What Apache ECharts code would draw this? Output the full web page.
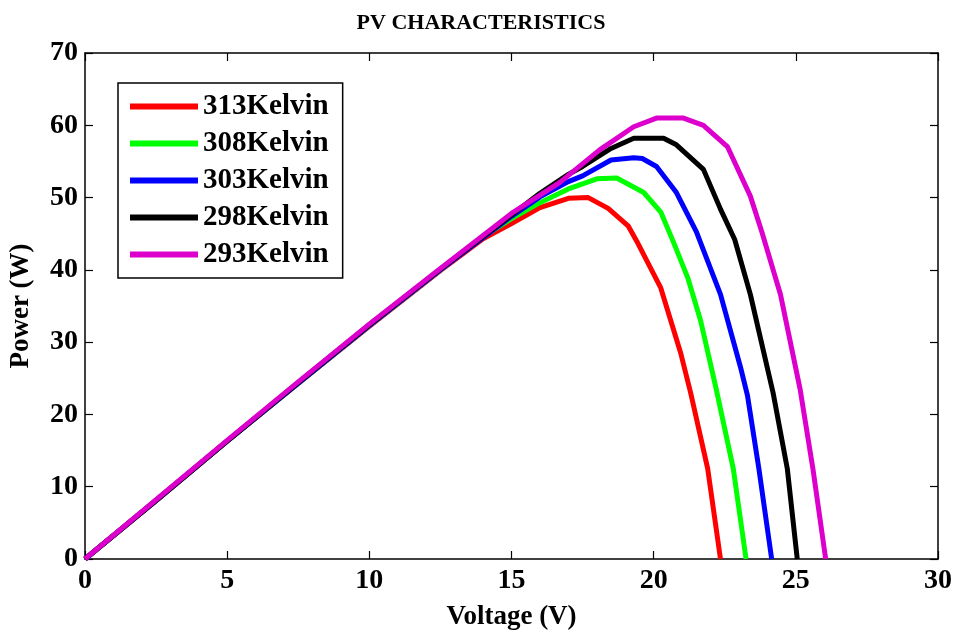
<!DOCTYPE html>
<html>
<head>
<meta charset="utf-8">
<script src="https://cdn.jsdelivr.net/npm/echarts@6/dist/echarts.min.js"></script>
<style>html,body{margin:0;padding:0;background:#fff}#chart{width:962px;height:636px}</style>
</head>
<body>
<div id="chart"></div>
<script>
var seriesNames = ['313Kelvin', '308Kelvin', '303Kelvin', '298Kelvin', '293Kelvin'];
var seriesColors = ['#ff0000', '#00ff00', '#0000ff', '#000000', '#dd00cc'];

var volts313 = [0, 2.5, 5, 7.5, 10, 12.5, 14, 15, 16, 17, 17.7, 18.4, 19.1, 19.4, 20.25, 20.95, 21.3, 21.9, 22.35];
var power313 = [0, 8.1, 16.3, 24.3, 32.2, 39.9, 44.3, 46.4, 48.6, 49.9, 50.0, 48.5, 46.1, 44.0, 37.5, 28.5, 23.0, 12.5, 0];

var volts308 = [0, 2.5, 5, 7.5, 10, 12.5, 14, 15, 16, 17, 18, 18.7, 19.65, 20.25, 20.7, 21.2, 21.65, 22.2, 22.8, 23.25];
var power308 = [0, 8.1, 16.3, 24.3, 32.3, 40.0, 44.6, 47.1, 49.3, 51.2, 52.6, 52.7, 50.7, 48.0, 43.8, 38.9, 33.0, 23.5, 12.5, 0];

var volts303 = [0, 2.5, 5, 7.5, 10, 12.5, 15, 16, 17, 17.5, 18.5, 19.3, 19.6, 20.1, 20.8, 21.5, 22.35, 23.05, 23.3, 23.7, 24.15];
var power303 = [0, 8.1, 16.3, 24.3, 32.3, 40.0, 47.4, 50.1, 52.2, 53.0, 55.2, 55.5, 55.4, 54.3, 50.7, 45.3, 36.6, 26.6, 22.6, 12.5, 0];

var volts298 = [0, 2.5, 5, 7.5, 10, 12.5, 15, 16, 17, 17.5, 18.5, 19.3, 20.35, 20.8, 21.75, 22.35, 22.85, 23.4, 24.2, 24.7, 25.05];
var power298 = [0, 8.1, 16.3, 24.4, 32.4, 40.1, 47.6, 50.6, 53.2, 54.3, 56.8, 58.2, 58.2, 57.3, 53.9, 48.4, 44.2, 36.6, 23.0, 12.5, 0];

var volts293 = [0, 2.5, 5, 7.5, 10, 12.5, 15, 16.7, 18.1, 19.3, 20.1, 21.05, 21.75, 22.6, 23.4, 23.8, 24.46, 25.15, 25.6, 26.05];
var power293 = [0, 8.2, 16.4, 24.5, 32.5, 40.2, 47.8, 52.1, 56.6, 59.8, 61.0, 61.0, 60.0, 57.0, 50.2, 45.3, 36.6, 23.5, 12.5, 0];

var xTicks = [0, 5, 10, 15, 20, 25, 30];
var yTicks = [0, 10, 20, 30, 40, 50, 60, 70];

var allVolts = [volts313, volts308, volts303, volts298, volts293];
var allPower = [power313, power308, power303, power298, power293];

var FONT = 'Liberation Serif';

function pairs(v, p) {
  var out = [];
  for (var i = 0; i < v.length; i++) out.push([v[i], p[i]]);
  return out;
}

var series = seriesNames.map(function (name, i) {
  return {
    name: name,
    type: 'line',
    xAxisIndex: 0,
    yAxisIndex: 0,
    data: pairs(allVolts[i], allPower[i]),
    showSymbol: false,
    symbol: 'none',
    smooth: false,
    lineStyle: { color: seriesColors[i], width: 5, join: 'round' },
    itemStyle: { color: seriesColors[i] },
    emphasis: { disabled: true },
    animation: false,
    z: 2 + i
  };
});

var xMin = xTicks[0], xMax = xTicks[xTicks.length - 1];
var yMin = yTicks[0], yMax = yTicks[yTicks.length - 1];
var xStep = xTicks[1] - xTicks[0], yStep = yTicks[1] - yTicks[0];

var axisText = { color: '#000', fontFamily: FONT, fontWeight: 'bold', fontSize: 28 };

var option = {
  backgroundColor: '#fff',
  animation: false,
  title: {
    text: 'PV CHARACTERISTICS',
    left: 'center',
    top: 7,
    textStyle: { color: '#000', fontFamily: FONT, fontWeight: 'bold', fontSize: 22 }
  },
  grid: { left: 84, right: 24, top: 53, bottom: 70, containLabel: false },
  legend: {
    orient: 'vertical',
    left: 118,
    top: 83,
    data: seriesNames,
    icon: 'rect',
    itemWidth: 68,
    itemHeight: 6,
    itemGap: 8,
    padding: [9, 14, 9, 12],
    borderColor: '#000',
    borderWidth: 1.5,
    backgroundColor: '#fff',
    textStyle: { color: '#000', fontFamily: FONT, fontWeight: 'bold', fontSize: 29, lineHeight: 28 }
  },
  xAxis: [
    {
      type: 'value', min: xMin, max: xMax, interval: xStep,
      name: 'Voltage (V)', nameLocation: 'middle', nameGap: 45,
      nameTextStyle: { color: '#000', fontFamily: FONT, fontWeight: 'bold', fontSize: 27 },
      axisLine: { show: true, onZero: false, lineStyle: { color: '#000', width: 1.5 } },
      axisTick: { show: true, inside: true, length: 8, lineStyle: { color: '#000', width: 1.2 } },
      axisLabel: Object.assign({ margin: 8 }, axisText),
      splitLine: { show: false }
    },
    {
      type: 'value', position: 'top', min: xMin, max: xMax, interval: xStep,
      axisLine: { show: true, onZero: false, lineStyle: { color: '#000', width: 1.5 } },
      axisTick: { show: true, inside: true, length: 8, lineStyle: { color: '#000', width: 1.2 } },
      axisLabel: { show: false },
      splitLine: { show: false }
    }
  ],
  yAxis: [
    {
      type: 'value', min: yMin, max: yMax, interval: yStep,
      name: 'Power (W)', nameLocation: 'middle', nameGap: 50, nameRotate: 90,
      nameTextStyle: { color: '#000', fontFamily: FONT, fontWeight: 'bold', fontSize: 27 },
      axisLine: { show: true, onZero: false, lineStyle: { color: '#000', width: 1.5 } },
      axisTick: { show: true, inside: true, length: 8, lineStyle: { color: '#000', width: 1.2 } },
      axisLabel: Object.assign({ margin: 7 }, axisText),
      splitLine: { show: false }
    },
    {
      type: 'value', position: 'right', min: yMin, max: yMax, interval: yStep,
      axisLine: { show: true, onZero: false, lineStyle: { color: '#000', width: 1.5 } },
      axisTick: { show: true, inside: true, length: 8, lineStyle: { color: '#000', width: 1.2 } },
      axisLabel: { show: false },
      splitLine: { show: false }
    }
  ],
  series: series
};

var chart = echarts.init(document.getElementById('chart'), null, { renderer: 'canvas' });
chart.setOption(option);
</script>
</body>
</html>
